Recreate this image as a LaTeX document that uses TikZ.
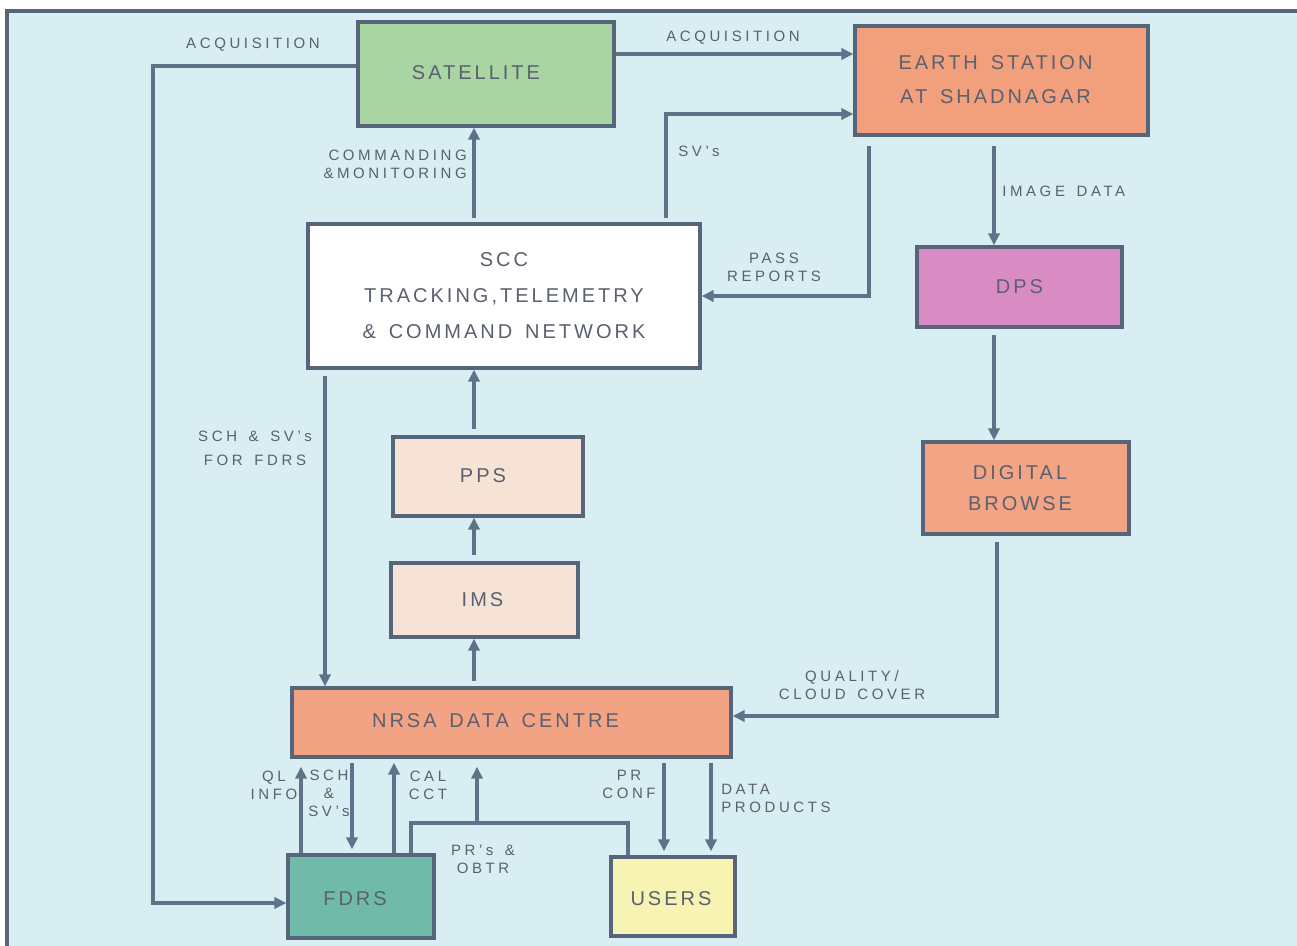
\documentclass[tikz,border=0pt]{standalone}
\usepackage{fontspec}
\setmainfont{Liberation Sans}
\newfontfamily\labfont[LetterSpace=24,WordSpace=1.5]{Liberation Sans}
\newfontfamily\boxfont[LetterSpace=15,WordSpace=1.5]{Liberation Sans}
\usetikzlibrary{arrows.meta}
\definecolor{paper}{HTML}{D8EEF2}
\definecolor{edge}{HTML}{56657A}
\definecolor{wire}{HTML}{5E7289}
\definecolor{ink}{HTML}{5A6070}
\definecolor{satgreen}{HTML}{A8D5A2}
\definecolor{earthorange}{HTML}{F2A07C}
\definecolor{dpspink}{HTML}{D98CC4}
\definecolor{browseorange}{HTML}{F2A484}
\definecolor{nrsaorange}{HTML}{F2A383}
\definecolor{peach}{HTML}{F7E3D6}
\definecolor{fdrsteal}{HTML}{70BAA9}
\definecolor{usersyellow}{HTML}{F7F3B3}
\begin{document}
\begin{tikzpicture}[x=0.75pt,y=-0.75pt,
  box/.style={draw=edge, line width=2.6pt, inner sep=0pt},
  boxtext/.style={text=ink, align=center, inner sep=0pt,
    font=\boxfont\fontsize{15}{26}\selectfont},
  wireline/.style={draw=wire, line width=2.4pt},
  arr/.style={wireline, -{Triangle[length=9pt,width=8.5pt]}},
  lab/.style={text=ink, align=center, inner sep=0pt,
    font=\labfont\fontsize{11.25}{13.5}\selectfont}]
\useasboundingbox (0,0) rectangle (1297,946);
\fill[white] (0,0) rectangle (1297,946);
\fill[paper] (7,11) rectangle (1297,946);
\draw[draw=edge, line width=2.4pt] (7,946) -- (7,11) -- (1297,11);

% blocks
\node[box, fill=satgreen, minimum width=192pt, minimum height=78pt] (sat) at (486,74) {};
\node[box, fill=earthorange, minimum width=219.75pt, minimum height=81.75pt] (earth) at (1001.5,80.5) {};
\node[box, fill=white, minimum width=294pt, minimum height=108pt] (scc) at (504,296) {};
\node[box, fill=dpspink, minimum width=153.75pt, minimum height=60pt] (dps) at (1019.5,287) {};
\node[box, fill=browseorange, minimum width=154.5pt, minimum height=69pt] (browse) at (1026,488) {};
\node[box, fill=peach, minimum width=142.5pt, minimum height=59.25pt] (pps) at (488,476.5) {};
\node[box, fill=peach, minimum width=140.25pt, minimum height=55.5pt] (ims) at (484.5,600) {};
\node[box, fill=nrsaorange, minimum width=329.25pt, minimum height=51.75pt] (nrsa) at (511.5,722.5) {};
\node[box, fill=fdrsteal, minimum width=109.5pt, minimum height=62.25pt] (fdrs) at (361,896.5) {};
\node[box, fill=usersyellow, minimum width=93pt, minimum height=59.25pt] (users) at (673,896.5) {};

% block titles
\node[boxtext] (tSat) at ([xshift=-7.5pt,yshift=0.75pt]sat.center) {SATELLITE};
\node[boxtext] (tEarth) at ([xshift=-4.5pt,yshift=0.75pt]earth.center) {EARTH STATION\\AT SHADNAGAR};
\node[boxtext, font=\boxfont\fontsize{15}{27}\selectfont] (tScc) at (scc.center) {SCC\\TRACKING,TELEMETRY\\\& COMMAND NETWORK};
\node[boxtext] (tDps) at (dps.center) {DPS};
\node[boxtext, font=\boxfont\fontsize{15}{23}\selectfont] (tBrowse) at ([xshift=-4.5pt]browse.center) {DIGITAL\\BROWSE};
\node[boxtext] (tPps) at ([xshift=-3.75pt,yshift=0.75pt]pps.center) {PPS};
\node[boxtext] (tIms) at ([xshift=-1.5pt]ims.center) {IMS};
\node[boxtext] (tNrsa) at ([xshift=-12pt,yshift=1.5pt]nrsa.center) {NRSA DATA CENTRE};
\node[boxtext] (tFdrs) at ([xshift=-4.5pt,yshift=-1.5pt]fdrs.center) {FDRS};
\node[boxtext] (tUsers) at ([xshift=-1.5pt,yshift=-1.5pt]users.center) {USERS};

% lanes of the connectors
\coordinate (yAcqR) at (0,54);
\coordinate (yAcqL) at (0,66);
\coordinate (xAcq) at (153,0);
\coordinate (yFdrs) at (0,903);
\coordinate (xMid) at (474,0);
\coordinate (xSV) at (666,0);
\coordinate (ySV) at (0,114);
\coordinate (xPass) at (869,0);
\coordinate (yPass) at (0,296);
\coordinate (xImg) at (994,0);
\coordinate (xQual) at (997,0);
\coordinate (yQual) at (0,716);
\coordinate (xSch) at (325,0);
\coordinate (xQL) at (301,0);
\coordinate (xSchF) at (352,0);
\coordinate (xCal) at (394,0);
\coordinate (xPRl) at (411,0);
\coordinate (xPRup) at (477,0);
\coordinate (xPRr) at (628,0);
\coordinate (yPR) at (0,823);
\coordinate (xConf) at (664,0);
\coordinate (xData) at (711,0);

% connectors
\draw[arr] (sat.east |- yAcqR) -- (earth.west |- yAcqR);
\draw[arr] (sat.west |- yAcqL) -- (xAcq |- yAcqL) -- (xAcq |- yFdrs) -- (fdrs.west |- yFdrs);
\draw[arr, shorten <=3pt] (scc.north -| xMid) -- (sat.south -| xMid);
\draw[arr, shorten <=3pt] (scc.north -| xSV) -- (xSV |- ySV) -- (earth.west |- ySV);
\draw[arr, shorten <=7pt] (earth.south -| xPass) -- (xPass |- yPass) -- (scc.east |- yPass);
\draw[arr, shorten <=7pt] (earth.south -| xImg) -- (dps.north -| xImg);
\draw[arr, shorten <=5pt] (dps.south -| xImg) -- (browse.north -| xImg);
\draw[arr, shorten <=5pt] (browse.south -| xQual) -- (xQual |- yQual) -- (nrsa.east |- yQual);
\draw[arr, shorten <=5pt] (scc.south -| xSch) -- (nrsa.north -| xSch);
\draw[arr, shorten <=5pt] (pps.north -| xMid) -- (scc.south -| xMid);
\draw[arr, shorten <=5pt] (ims.north -| xMid) -- (pps.south -| xMid);
\draw[arr, shorten <=4pt] (nrsa.north -| xMid) -- (ims.south -| xMid);
\draw[arr, shorten >=6pt] (fdrs.north -| xQL) -- (nrsa.south -| xQL);
\draw[arr, shorten <=3pt, shorten >=3pt] (nrsa.south -| xSchF) -- (fdrs.north -| xSchF);
\draw[arr, shorten >=3pt] (fdrs.north -| xCal) -- (nrsa.south -| xCal);
\draw[wireline] (fdrs.north -| xPRl) -- (xPRl |- yPR) -- (xPRr |- yPR) -- (users.north -| xPRr);
\draw[arr, shorten >=6pt] (xPRup |- yPR) -- (nrsa.south -| xPRup);
\draw[arr, shorten <=3pt, shorten >=3pt] (nrsa.south -| xConf) -- (users.north -| xConf);
\draw[arr, shorten <=3pt, shorten >=3pt] (nrsa.south -| xData) -- (users.north -| xData);

% connector labels
\node[lab] (lAcqR) at (733,38) {ACQUISITION};
\node[lab] (lAcqL) at (253,45) {ACQUISITION};
\node[lab, anchor=east, align=right] (lCmd) at (467,164) {COMMANDING\\\&MONITORING};
\node[lab] (lSV) at (699,151) {SV’s};
\node[lab] (lPass) at (774,267) {PASS\\REPORTS};
\node[lab, anchor=west] (lImg) at (1002,191) {IMAGE DATA};
\node[lab] (lQual) at (852,685) {QUALITY/\\CLOUD COVER};
\node[lab, font=\labfont\fontsize{11.25}{18}\selectfont] (lSch) at (255,448) {SCH \& SV’s\\FOR FDRS};
\node[lab] (lQL) at (274,785) {QL\\INFO};
\node[lab] (lSchF) at (329,793) {SCH\\\&\\SV’s};
\node[lab] (lCal) at (428,785) {CAL\\CCT};
\node[lab] (lPR) at (483,859) {PR’s \&\\OBTR};
\node[lab] (lConf) at (629,784) {PR\\CONF};
\node[lab, anchor=west, align=left] (lData) at (721,798) {DATA\\PRODUCTS};
\end{tikzpicture}
\end{document}
